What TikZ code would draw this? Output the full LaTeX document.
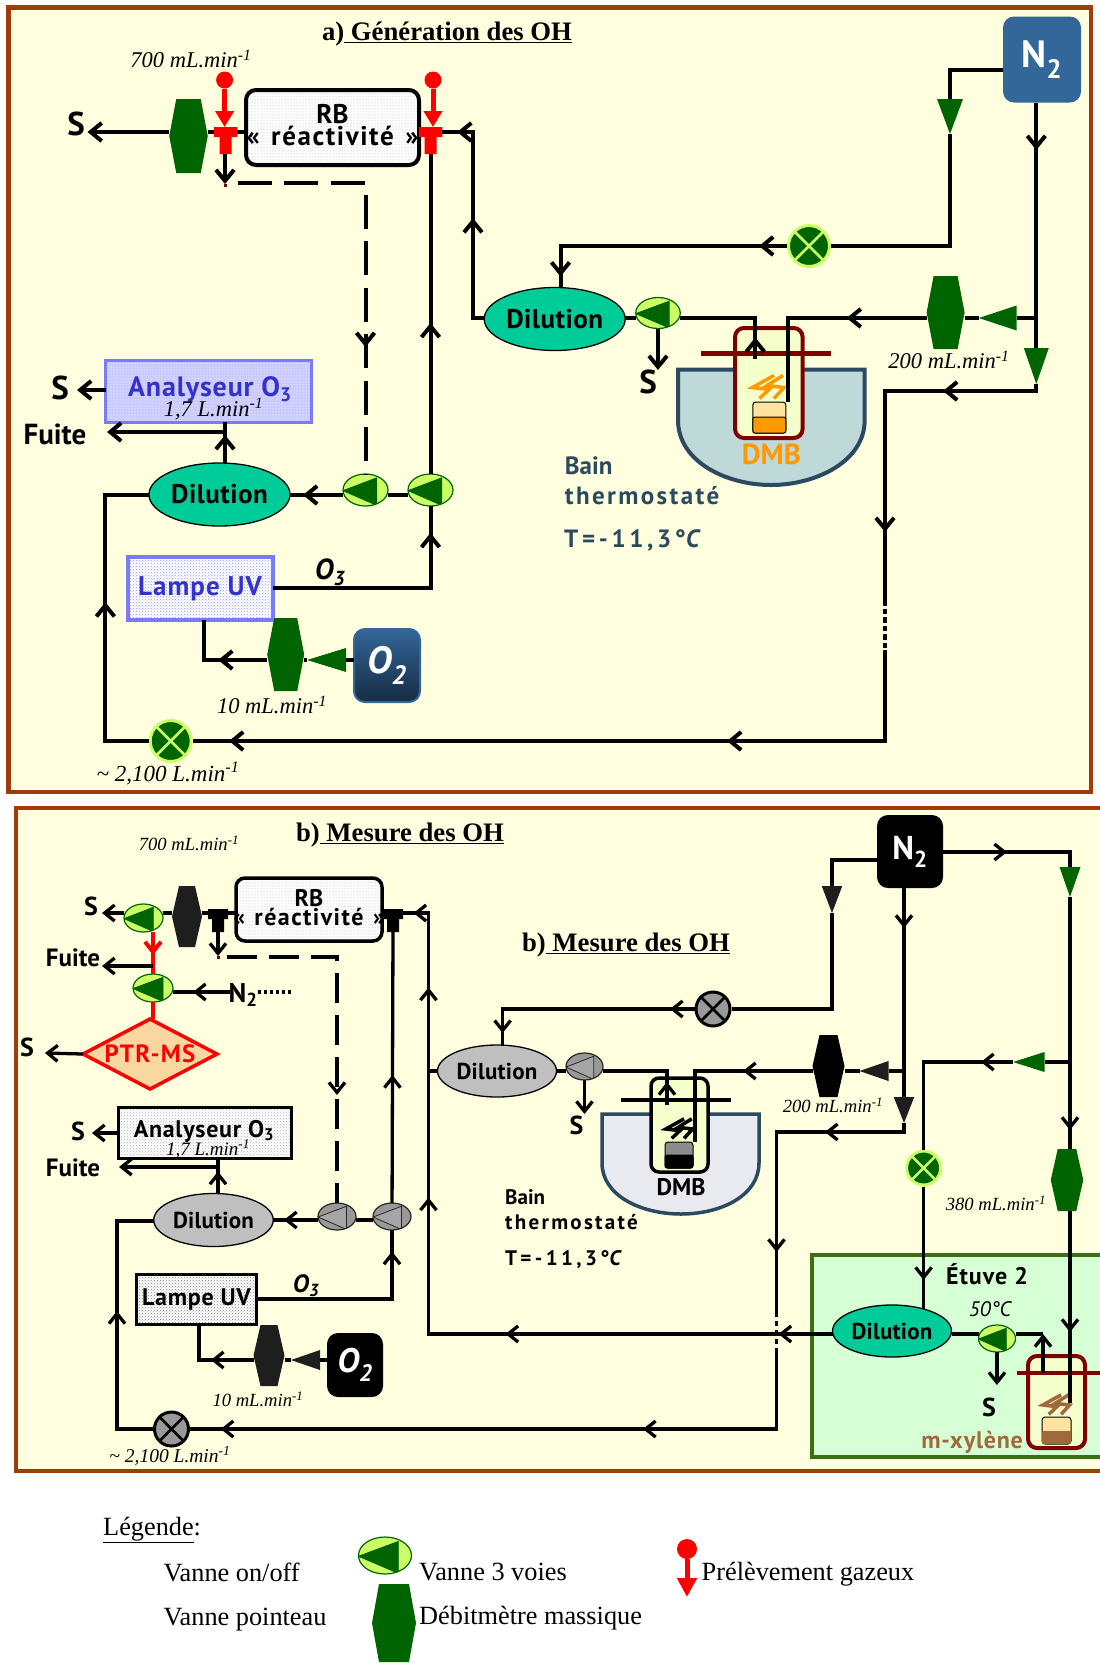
\documentclass[tikz,border=0pt]{standalone}
\usepackage{fontspec}
\setmainfont{Liberation Serif}
\setsansfont{PT Sans}
\usetikzlibrary{shapes.geometric,arrows.meta,calc,patterns,decorations.markings}
\definecolor{paper}{RGB}{255,255,224}
\definecolor{rust}{RGB}{160,60,12}
\definecolor{darkgreen}{RGB}{0,100,0}
\definecolor{lightgreen}{RGB}{204,255,102}
\definecolor{tealgreen}{RGB}{0,204,153}
\definecolor{steel}{RGB}{51,102,153}
\definecolor{navy}{RGB}{23,43,66}
\definecolor{lilac}{RGB}{122,122,255}
\definecolor{inkblue}{RGB}{51,51,204}
\definecolor{bathblue}{RGB}{191,216,216}
\definecolor{bathgrey}{RGB}{232,234,240}
\definecolor{slate}{RGB}{44,74,95}
\definecolor{flaskred}{RGB}{128,0,0}
\definecolor{flaskfill}{RGB}{245,255,204}
\definecolor{vialtop}{RGB}{255,228,160}
\definecolor{amber}{RGB}{255,153,0}
\definecolor{brownish}{RGB}{160,105,60}
\definecolor{ovengreen}{RGB}{214,255,214}
\definecolor{ovenline}{RGB}{60,110,20}
\definecolor{peach}{RGB}{250,215,160}
\definecolor{coal}{RGB}{30,30,30}
\def\ppb{path picture bounding box}
\newcommand\spc[1]{\addfontfeature{LetterSpace=#1}}
\tikzset{
wh/.style 2 args={minimum width=#1pt,minimum height=#2pt,inner sep=0pt,outer sep=0pt},
pipe/.style={line width=4pt,>={Straight Barb[length=11pt,width=18pt]}},
pipeb/.style={line width=3.3pt,>={Straight Barb[length=10pt,width=16pt]}},
flow/.style={postaction={decorate,decoration={markings,mark=at position #1 with {\arrow{>}}}}},
lab/.style={font=\sffamily\bfseries\fontsize{#1}{#1}\selectfont,inner sep=0pt,align=center},
rate/.style={font=\itshape\fontsize{#1}{#1}\selectfont,inner sep=0pt},
legtext/.style={font=\fontsize{26.3}{26.3}\selectfont,inner sep=0pt,anchor=west},
mfc/.style={path picture={\fill[#1] ($(\ppb.north west)+(7,0)$) -- ($(\ppb.north east)+(-7,0)$) -- (\ppb.east) -- ($(\ppb.south east)+(-7,0)$) -- ($(\ppb.south west)+(7,0)$) -- (\ppb.west) -- cycle;}},
tridown/.style={path picture={\fill[#1] (\ppb.north west) -- (\ppb.north east) -- (\ppb.south) -- cycle;}},
trileft/.style={path picture={\fill[#1] (\ppb.west) -- (\ppb.north east) -- (\ppb.south east) -- cycle;}},
tee/.style={path picture={\fill[#1] (\ppb.north west) -- (\ppb.north east) -- ($(\ppb.north east)+(0,10)$) -- ($(\ppb.north)+(6,10)$) -- ($(\ppb.south)+(6,0)$) -- ($(\ppb.south)+(-6,0)$) -- ($(\ppb.north)+(-6,10)$) -- ($(\ppb.north west)+(0,10)$) -- cycle;}},
vthree/.style n args={3}{ellipse,inner sep=0pt,draw=#2,fill=#1,line width=1.2pt,path picture={\filldraw[fill=#3,draw=#2,line width=.8pt] let \p1=(\ppb.north west),\p2=(\ppb.south east) in (\x1,{\y1+.52*(\y2-\y1)}) -- ({\x1+.75*(\x2-\x1)},{\y1+.12*(\y2-\y1)}) -- ({\x1+.75*(\x2-\x1)},{\y1+.98*(\y2-\y1)}) -- cycle;}},
vgreen/.style={vthree={lightgreen}{darkgreen}{darkgreen}},
vgrey/.style={vthree={gray!80}{black!85}{gray!70}},
onoff/.style n args={3}{circle,inner sep=0pt,minimum size=#3pt,draw=#2,fill=#1,line width=3pt,path picture={\draw[#2,line width=2.6pt] (\ppb.north west) -- (\ppb.south east) (\ppb.north east) -- (\ppb.south west);}},
dilution/.style={ellipse,draw=black,line width=1.3pt,inner sep=0pt},
gas/.style={rounded corners=11pt,inner sep=0pt,text=white,line width=2pt},
sample/.style={circle,fill=red,inner sep=0pt,minimum size=17pt},
redpipe/.style={line width=5pt,red,-{Triangle[length=16pt,width=18pt]}},
heater/.pic={\draw[pic actions,line width=3.5pt] (6,-12) -- (-15.5,0) -- (1,2) -- (-8.5,11) (15,-12) -- (-1,-2) -- (16,0) -- (6,11);}
}
\begin{document}
\begin{tikzpicture}[x=1pt,y=-1pt]
\useasboundingbox (0,0) rectangle (1100,1663);

% panel a
\draw[rust,line width=4.5pt,fill=paper] (8.5,7.5) rectangle (1091,792);
\node[font=\bfseries\fontsize{26.7}{27}\selectfont,inner sep=0pt] (titleA) at (447,34) {a)\underline{\ Génération des OH}};

\draw[slate,line width=4pt,fill=bathblue] (678,369.6) -- (864.7,369.6) -- (864.7,420) .. controls (864.7,462) and (815,485) .. (771,485) .. controls (727,485) and (678,462) .. (678,420) -- cycle;
\draw[flaskred,line width=4pt,fill=flaskfill,rounded corners=9pt] (735,328) rectangle (802.6,438);
\draw[flaskred,line width=5pt] (701,353) -- (830.7,353);
\pic[draw=amber] at (768,387.5) {heater};
\draw[fill=vialtop,rounded corners=3pt,line width=1pt] (752.8,402) rectangle (785.8,433);
\draw[fill=amber,rounded corners=2pt,line width=1pt] (752.8,417) rectangle (785.8,433);

\node[lab=33] (sA) at (76,124) {S};
\node[wh={38.5}{74},mfc=darkgreen] (mfcA) at (188.5,136) {};
\node[wh={23.5}{27},tee=red] (teeA) at (225.5,140.5) {};
\node[draw=black,line width=4pt,rounded corners=10pt,wh={173}{75},preaction={fill=white},pattern=dots,pattern color=gray!70] (rbA) at (332.5,127.5) {};
\node[lab=27] (rbAt) at (332.5,125) {RB\\[-5pt]\spc{6}«\hspace{3pt} réactivité \hspace{3pt}»};
\node[wh={23.5}{27},tee=red] (teeB) at (430.5,140.5) {};
\node[sample] (prA) at (224.6,80) {};
\node[sample] (prB) at (433,80) {};
\node[rate=22.5] (debitA) at (191,59) {700 mL.min\textsuperscript{-1}};

\node[draw=lilac,line width=3pt,wh={206}{62},preaction={fill=lilac!40},pattern=dots,pattern color=white] (anaA) at (208.5,391) {};
\node[lab=28,text=inkblue] (anaAt) at (210,389) {\spc{3}Analyseur O\textsubscript{3}};
\node[rate=22.5] (anaAd) at (213.5,409) {1,7 L.min\textsuperscript{-1}};
\node[lab=33] (sB) at (60,388) {S};
\node[lab=29] (fuiteA) at (55,434) {Fuite};
\node[dilution,fill=tealgreen,wh={141}{63},lab=27] (dilB) at (219.5,494.5) {\spc{2}Dilution};
\node[vgreen,wh={45}{32}] (valA) at (365.5,490) {};
\node[vgreen,wh={45}{32}] (valB) at (430.5,490) {};
\node[draw=lilac,line width=4pt,wh={145}{63},preaction={fill=white},pattern=crosshatch dots,pattern color=lilac!80,lab=27,text=inkblue] (lampA) at (200,588.5) {\spc{4}Lampe UV};
\node[font=\sffamily\bfseries\itshape\fontsize{29}{29}\selectfont,inner sep=0pt] (ozA) at (330,572) {O\textsubscript{3}};
\node[wh={37}{73},mfc=darkgreen] (mfcB) at (285.7,654.5) {};
\node[wh={39}{24},trileft=darkgreen] (triA) at (326.5,660) {};
\node[gas,draw=steel,top color=steel,bottom color=navy,wh={66}{73},font=\sffamily\bfseries\itshape\fontsize{38}{38}\selectfont,text=white] (oxA) at (387,665.5) {O\textsubscript{2}};
\node[rate=22.5] (debitB) at (272,705) {10 mL.min\textsuperscript{-1}};
\node[onoff={darkgreen}{lightgreen}{41}] (onA) at (170.7,741) {};
\node[rate=23] (debitC) at (168,773) {\textasciitilde{} 2,100 L.min\textsuperscript{-1}};

\node[gas,fill=steel,wh={78}{86},lab=38,text=white] (nA) at (1042,59.5) {N\textsubscript{2}};
\node[wh={26}{35},tridown=darkgreen] (triB) at (950,116.5) {};
\node[onoff={darkgreen}{lightgreen}{41}] (onB) at (809,246) {};
\node[dilution,fill=tealgreen,wh={141}{63},lab=27] (dilA) at (554.7,319) {\spc{2}Dilution};
\node[vgreen,wh={44.5}{31}] (valC) at (658,313) {};
\node[lab=33] (sC) at (648,382) {S};
\node[wh={38}{73},mfc=darkgreen] (mfcC) at (945.6,312.5) {};
\node[wh={38}{25},trileft=darkgreen] (triC) at (997.7,318) {};
\node[wh={25}{36},tridown=darkgreen] (triD) at (1036.3,366) {};
\node[rate=22.5] (debitD) at (949,360) {200 mL.min\textsuperscript{-1}};
\node[lab=29,text=amber] (dmbA) at (771.4,454) {DMB};
\node[lab=25,text=slate,anchor=west] (bainA) at (564.7,466) {Bain};
\node[lab=25,text=slate,anchor=west] (bainB) at (564.7,496) {\spc{9.6}thermostaté};
\node[lab=25,text=slate,anchor=west] (bainC) at (564,540) {\spc{14.6}T=-11,3°\textit{C}};

\coordinate (aS) at (87.5,132);
\coordinate (aJ) at (473,132);
\coordinate (aD) at (473,318);
\coordinate (aDrop) at (225,184);
\coordinate (aTick) at (225,187);
\coordinate (aDash) at (237.5,183);
\coordinate (aSb) at (77,390);
\coordinate (aFuite) at (225,432);
\coordinate (aFe) at (107,432);
\coordinate (aL) at (0,495);
\coordinate (aBL) at (105.4,741);
\coordinate (aDL) at (105.4,495);
\coordinate (aLr) at (430.5,588);
\coordinate (aLb) at (203.6,660);
\coordinate (aN1) at (950,69.6);
\coordinate (aN2) at (950,246);
\coordinate (aT) at (560.5,246);
\coordinate (aR1) at (1036.3,318);
\coordinate (aR2) at (1036.3,391);
\coordinate (aR3) at (885,391);
\coordinate (aR4) at (885,600);
\coordinate (aR5) at (885,650);
\coordinate (aR6) at (885,741);
\coordinate (aG1) at (787.5,318);
\coordinate (aG2) at (787.5,402);
\coordinate (aF1) at (755.3,359);
\coordinate (aF2) at (755.3,318);
\coordinate (aFs) at (658,370);

\draw[pipe,->] (mfcA.west|-aS) -- (aS);
\draw[pipe] (mfcA.east|-aS) -- (teeA.west|-aS);
\draw[pipe] (teeA.east|-aS) -- (rbA.west|-aS);
\draw[pipe,flow=111pt,flow=213pt] (dilA.west|-aD) -- (aD) -- (aJ) -- (teeB.east|-aJ);
\draw[flaskred,line width=3pt] (aDrop) -- (aTick);
\draw[pipe,->] (aDrop|-teeA.south) -- (aDrop);
\draw[pipe,flow=292pt,dash pattern=on 34pt off 12.5pt] (aDash) -| (valA.north);
\draw[pipe,flow=151pt] (valB) -- (teeB.south);
\draw[pipe] (valB.west|-aL) -- (valA.east|-aL);
\draw[pipe,flow=40pt] (valA.west|-aL) -- (dilB.east|-aL);
\draw[pipe,->] (anaA.west|-aSb) -- (aSb);
\draw[pipe,flow=28pt] (aFuite|-dilB.north) -- (aFuite|-anaA.south);
\draw[pipe,->] (aFuite) -- (aFe);
\draw[pipe,flow=182pt] (onA) -- (aBL) -- (aDL) -- (dilB.west|-aDL);
\draw[pipe,flow=213pt] (lampA.east|-aLr) -- (aLr) -- (valB);
\draw[pipe] (oxA.west|-triA) -- (triA);
\draw[pipe] (triA.west) -- (mfcB.east|-triA);
\draw[pipe,flow=49pt] (mfcB.west|-triA) -- (aLb) -- (aLb|-lampA.south);
\draw[pipe] (nA.west|-aN1) -- (aN1) -- (triB.north);
\draw[pipe] (triB.south) -- (aN2) -- (onB);
\draw[pipe,flow=28pt,flow=257pt] (onB) -- (aT) -- (aT|-dilA.north);
\draw[pipe,flow=47.5pt] (aR1|-nA.south) -- (aR1) -- (triD.north);
\draw[pipe,flow=100.3pt,flow=299.3pt] (triD.south) -- (aR2) -- (aR3) -- (aR4);
\draw[pipe,dash pattern=on 5.5pt off 3pt] (aR4) -- (aR5);
\draw[pipe,flow=249pt,flow=747pt] (aR5) -- (aR6) -- (onA);
\draw[pipe] (aR1) -- (triC.east);
\draw[pipe] (triC.west) -- (mfcC.east|-aR1);
\draw[pipe,flow=80pt] (mfcC.west|-aR1) -- (aG1) -- (aG2);
\draw[pipe,flow=21.5pt] (aF1) -- (aF2) -- (valC.east|-aF2);
\draw[pipe] (valC.west|-aF2) -- (dilA.east|-aF2);
\draw[pipe,->] (valC.south) -- (aFs);
\draw[redpipe] (prA) -- (prA|-teeA.north);
\draw[redpipe] (prB) -- (prB|-teeB.north);

% panel b
\fill[paper] (15.5,808) rectangle (1100,1471);
\draw[rust,line width=4pt] (1100,808) -- (15.5,808) -- (15.5,1471) -- (1100,1471);
\node[font=\bfseries\fontsize{26.7}{27}\selectfont,inner sep=0pt] (titleB) at (400,835) {b)\underline{\ Mesure des OH}};
\node[font=\bfseries\fontsize{26.7}{27}\selectfont,inner sep=0pt] (titleC) at (626,945) {b)\underline{\ Mesure des OH}};

\draw[ovenline,line width=3.5pt,fill=ovengreen] (1100,1255) -- (812,1255) -- (812,1457) -- (1100,1457);
\draw[slate,line width=3.5pt,fill=bathgrey] (602,1114) -- (759,1114) -- (759,1163) .. controls (759,1195) and (722,1214) .. (681,1214) .. controls (640,1214) and (602,1195) .. (602,1163) -- cycle;
\draw[black,line width=3.5pt,fill=flaskfill,rounded corners=8pt] (651,1078) rectangle (708,1172);
\draw[black,line width=4pt] (621,1100) -- (731,1100);
\pic[draw=black,scale=.85] at (679,1129) {heater};
\draw[fill=gray!90,rounded corners=3pt,line width=1pt] (665,1142) rectangle (693,1168);
\draw[fill=black,rounded corners=2pt,line width=1pt] (665,1155) rectangle (693,1168);
\draw[flaskred,line width=4pt,fill=flaskfill,rounded corners=9pt] (1028,1356) rectangle (1085,1448);
\draw[flaskred,line width=4.5pt] (1017,1373) -- (1100,1373);
\pic[draw=brownish,scale=.85] at (1056,1405) {heater};
\draw[fill=vialtop,rounded corners=3pt,line width=1pt] (1042,1417) rectangle (1071,1444);
\fill[brownish,rounded corners=2pt] (1042,1431) rectangle (1071,1444);

\node[lab=26] (sD) at (91,906) {S};
\node[vgreen,wh={39}{28}] (valD) at (143.5,918) {};
\node[wh={30}{61},mfc=coal] (mfcD) at (187,916.5) {};
\node[wh={20}{23},tee=black] (teeD) at (218,920.5) {};
\node[draw=black,line width=3.5pt,rounded corners=9pt,wh={146}{63},preaction={fill=white},pattern=dots,pattern color=gray!70] (rbB) at (309,909.5) {};
\node[lab=24] (rbBt) at (309,908) {RB\\[-5pt]\spc{6}«\hspace{2pt} réactivité \hspace{2pt}»};
\node[wh={20}{23},tee=black] (teeE) at (393,920.5) {};
\node[rate=18.6] (debitE) at (189,843) {700 mL.min\textsuperscript{-1}};
\node[lab=25] (fuiteB) at (73,958) {Fuite};
\node[vgreen,wh={40}{28}] (valE) at (153,988) {};
\node[lab=27] (nC) at (243,995) {N\textsubscript{2}};
\node[diamond,draw=red,line width=3.5pt,fill=peach,aspect=1.9,wh={134}{70},lab=25,text=red] (ptr) at (150,1054) {\spc{5}PTR-MS};
\node[lab=26] (sE) at (27,1047) {S};
\node[draw=black,line width=3pt,wh={173}{51},preaction={fill=white},pattern=crosshatch dots,pattern color=gray!60] (anaB) at (204.5,1132.5) {};
\node[lab=24] (anaBt) at (204,1131) {\spc{3}Analyseur O\textsubscript{3}};
\node[rate=19] (anaBd) at (208,1149) {1,7 L.min\textsuperscript{-1}};
\node[lab=26] (sF) at (78,1131) {S};
\node[lab=25] (fuiteC) at (73,1168) {Fuite};
\node[dilution,fill=gray!50,wh={119.5}{53},lab=23] (dilF) at (213.5,1220) {\spc{1}Dilution};
\node[vgrey,wh={38}{27}] (valF) at (337,1216.5) {};
\node[vgrey,wh={38}{27}] (valH) at (392,1216.5) {};
\node[draw=black,line width=3.5pt,wh={120}{50},preaction={fill=white},pattern=crosshatch dots,pattern color=gray,lab=24] (lampB) at (196.5,1299.5) {\spc{3}Lampe UV};
\node[font=\sffamily\bfseries\itshape\fontsize{25}{25}\selectfont,inner sep=0pt] (ozB) at (306,1286) {O\textsubscript{3}};
\node[wh={31}{61},mfc=coal] (mfcE) at (269,1355.5) {};
\node[wh={29}{20},trileft=coal] (triE) at (305.5,1360) {};
\node[gas,fill=black,wh={56}{64},font=\sffamily\bfseries\itshape\fontsize{34}{34}\selectfont,text=white] (oxB) at (355,1365) {O\textsubscript{2}};
\node[rate=18.6] (debitF) at (258,1399) {10 mL.min\textsuperscript{-1}};
\node[onoff={gray!80}{black}{34}] (onC) at (171.5,1429) {};
\node[rate=19.5] (debitG) at (170,1456) {\textasciitilde{} 2,100 L.min\textsuperscript{-1}};

\node[gas,fill=black,wh={66}{73},lab=33,text=white] (nB) at (910,851.5) {N\textsubscript{2}};
\node[wh={20.5}{27},tridown=coal] (triF) at (832,899.5) {};
\node[onoff={gray!80}{black}{34}] (onD) at (713,1009) {};
\node[dilution,fill=gray!50,wh={119}{52},lab=23] (dilD) at (497,1071) {\spc{1}Dilution};
\node[vgrey,wh={37}{27}] (valG) at (584.5,1066.5) {};
\node[lab=26] (sG) at (576.6,1125) {S};
\node[wh={32}{62},mfc=black] (mfcF) at (828.5,1066) {};
\node[wh={29}{20},trileft=coal] (triG) at (874,1071) {};
\node[wh={20.5}{26},tridown=coal] (triH) at (904,1110) {};
\node[rate=18.6] (debitH) at (833,1105) {200 mL.min\textsuperscript{-1}};
\node[lab=24] (dmbB) at (681,1187) {DMB};
\node[lab=21,anchor=west] (bainD) at (505,1197) {Bain};
\node[lab=21,anchor=west] (bainE) at (505,1222) {\spc{11}thermostaté};
\node[lab=21,anchor=west] (bainF) at (505,1260) {\spc{16}T=-11,3°\textit{C}};
\node[wh={21}{30},tridown=darkgreen] (triI) at (1070,882) {};
\node[wh={31.5}{20},trileft=darkgreen] (triJ) at (1028.75,1062) {};
\node[onoff={darkgreen}{lightgreen}{34}] (onE) at (923.6,1168) {};
\node[wh={32.5}{62},mfc=darkgreen] (mfcG) at (1067,1180) {};
\node[rate=18.6] (debitI) at (996,1203) {380 mL.min\textsuperscript{-1}};
\node[lab=24] (etuve) at (987,1274) {\spc{4}Étuve 2};
\node[font=\sffamily\itshape\fontsize{21}{21}\selectfont,inner sep=0pt] (tempB) at (990,1309) {50°C};
\node[dilution,fill=tealgreen,wh={119}{52},lab=23] (dilG) at (892,1331) {\spc{1}Dilution};
\node[vgreen,wh={37}{27}] (valI) at (997,1338.5) {};
\node[lab=26] (sH) at (989,1407) {S};
\node[lab=24,text=brownish] (xyl) at (972,1442) {\spc{3}m-xylène};

\coordinate (bS) at (102,913);
\coordinate (bV1) at (428.5,1334);
\coordinate (bV2) at (428.5,913);
\coordinate (bJ) at (428.5,1071);
\coordinate (bR) at (153,966);
\coordinate (bFe) at (102,966);
\coordinate (bN) at (230,992);
\coordinate (bN2) at (258,992);
\coordinate (bDot) at (292,992);
\coordinate (bPs) at (45,1053);
\coordinate (bAs) at (92,1133);
\coordinate (bF) at (218,1167);
\coordinate (bFi) at (119,1167);
\coordinate (bL) at (0,1220);
\coordinate (bDrop) at (218,956);
\coordinate (bTick) at (218,959);
\coordinate (bDa) at (227,957);
\coordinate (bU) at (392,1299);
\coordinate (bLb) at (199,1360);
\coordinate (bBL) at (117,1429);
\coordinate (bDL) at (117,1221);
\coordinate (bC) at (904,1071);
\coordinate (bC2) at (904,1132);
\coordinate (bC3) at (776.5,1132);
\coordinate (bC4) at (776.5,1312);
\coordinate (bC5) at (776.5,1352);
\coordinate (bC6) at (776.5,1429);
\coordinate (bG1) at (695,1071);
\coordinate (bG2) at (695,1142);
\coordinate (bG3) at (667,1105);
\coordinate (bG4) at (667,1071);
\coordinate (bGs) at (584.5,1114);
\coordinate (bK) at (832,860);
\coordinate (bK2) at (832,1009);
\coordinate (bK3) at (502.6,1009);
\coordinate (bM) at (1070,852);
\coordinate (bM2) at (1070,1062);
\coordinate (bM3) at (923.6,1062);
\coordinate (bM4) at (923.6,1309);
\coordinate (bM5) at (1070,1403);
\coordinate (bE) at (1043,1334);
\coordinate (bE2) at (1043,1373);
\coordinate (bIs) at (997,1385);

\draw[pipeb,->] (valD.west|-bS) -- (bS);
\draw[pipeb] (mfcD.west|-bS) -- (valD.east|-bS);
\draw[pipeb] (mfcD.east|-bS) -- (teeD.west|-bS);
\draw[pipeb] (teeD.east|-bS) -- (rbB.west|-bS);
\draw[pipeb,flow=54pt,flow=327pt,flow=540.5pt,flow=750.5pt,flow=840pt] (dilG.west|-bV1) -- (bV1) -- (bV2) -- (teeE.east|-bV2);
\draw[pipeb] (dilD.west|-bJ) -- (bJ);
\draw[line width=4pt,red,>={Straight Barb[length=10pt,width=16pt]},flow=23pt] (bR|-valD.south) -- (bR|-valE.north);
\draw[line width=4pt,red] (bR|-valE.south) -- (bR|-ptr.north);
\draw[pipeb,->] (bR) -- (bFe);
\draw[pipeb,flow=37pt] (bN) -- (valE.east|-bN);
\draw[pipeb,dash pattern=on 3pt off 3pt] (bN2) -- (bDot);
\draw[pipeb,->] (ptr.west) -- (bPs);
\draw[pipeb,->] (anaB.west|-bAs) -- (bAs);
\draw[pipeb,flow=22pt] (bF|-dilF.north) -- (bF|-anaB.south);
\draw[pipeb,->] (bF) -- (bFi);
\draw[pipeb] (valH.west|-bL) -- (valF.east|-bL);
\draw[pipeb,flow=34pt] (valF.west|-bL) -- (dilF.east|-bL);
\draw[flaskred,line width=3pt] (bDrop) -- (bTick);
\draw[pipeb,->] (teeD.south) -- (bDrop);
\draw[pipeb,flow=248pt,dash pattern=on 30pt off 12pt] (bDa) -| (valF.north);
\draw[pipeb,flow=128pt] (valH) -- (teeE.south);
\draw[pipeb,flow=183pt] (lampB.east|-bU) -- (bU) -- (valH);
\draw[pipeb] (oxB.west|-triE) -- (triE.east);
\draw[pipeb] (triE.west) -- (mfcE.east|-triE);
\draw[pipeb,flow=42.6pt] (mfcE.west|-triE) -- (bLb) -- (bLb|-lampB.south);
\draw[pipeb,flow=154pt] (onC) -- (bBL) -- (bDL) -- (dilF.west|-bDL);
\draw[pipeb,flow=40pt] (bC|-nB.south) -- (bC) -- (triH.north);
\draw[pipeb,flow=88pt,flow=256.5pt] (triH.south) -- (bC2) -- (bC3) -- (bC4);
\draw[pipeb,dash pattern=on 5pt off 4pt] (bC4) -- (bC5);
\draw[pipeb,flow=210.5pt,flow=632.8pt] (bC5) -- (bC6) -- (onC);
\draw[pipeb] (bC) -- (triG.east);
\draw[pipeb] (triG.west) -- (mfcF.east|-triG);
\draw[pipeb,flow=69.5pt] (mfcF.west|-bC) -- (bG1) -- (bG2);
\draw[pipeb,flow=23pt] (bG3) -- (bG4) -- (valG.east|-bG4);
\draw[pipeb] (valG.west|-bG4) -- (dilD.east|-bG4);
\draw[pipeb,->] (valG.south) -- (bGs);
\draw[pipeb] (nB.west|-bK) -- (bK) -- (triF.north);
\draw[pipeb] (triF.south) -- (bK2) -- (onD);
\draw[pipeb,flow=24.5pt,flow=216pt] (onD) -- (bK3) -- (bK3|-dilD.north);
\draw[pipeb,flow=64pt] (nB.east|-bM) -- (bM) -- (triI.north);
\draw[pipeb] (triI.south) -- (bM2);
\draw[pipeb] (bM2) -- (triJ.east);
\draw[pipeb,flow=32pt] (triJ.west) -- (bM3) -- (onE);
\draw[pipeb,flow=93.5pt] (onE) -- (bM4);
\draw[pipeb,flow=68pt] (bM2) -- (bM2|-mfcG.north);
\draw[pipeb,flow=121pt] (bM2|-mfcG.south) -- (bM5);
\draw[pipeb] (valI.west|-bE) -- (dilG.east|-bE);
\draw[pipeb] (bE) -- (valI.east|-bE);
\draw[pipeb,->] (bE2) -- (bE);
\draw[pipeb,->] (valI.south) -- (bIs);

% legende
\node[legtext] (legende) at (103,1530) {\underline{Légende}:};
\node[legtext] (legA) at (163.4,1572) {Vanne on/off};
\node[legtext] (legB) at (163.4,1620) {Vanne pointeau};
\node[legtext] (legC) at (419,1572) {Vanne 3 voies};
\node[legtext] (legD) at (419,1618) {Débitmètre massique};
\node[legtext] (legE) at (701.5,1574) {Prélèvement gazeux};
\node[vgreen,wh={53}{37}] (legVal) at (385,1555.5) {};
\node[wh={44}{78},mfc=darkgreen] (legMfc) at (394,1623) {};
\node[sample,minimum size=20pt] (legPr) at (687,1549) {};
\coordinate (legTip) at (687,1597);
\draw[redpipe,-{Triangle[length=19pt,width=19pt]}] (legPr) -- (legTip);
\end{tikzpicture}
\end{document}
